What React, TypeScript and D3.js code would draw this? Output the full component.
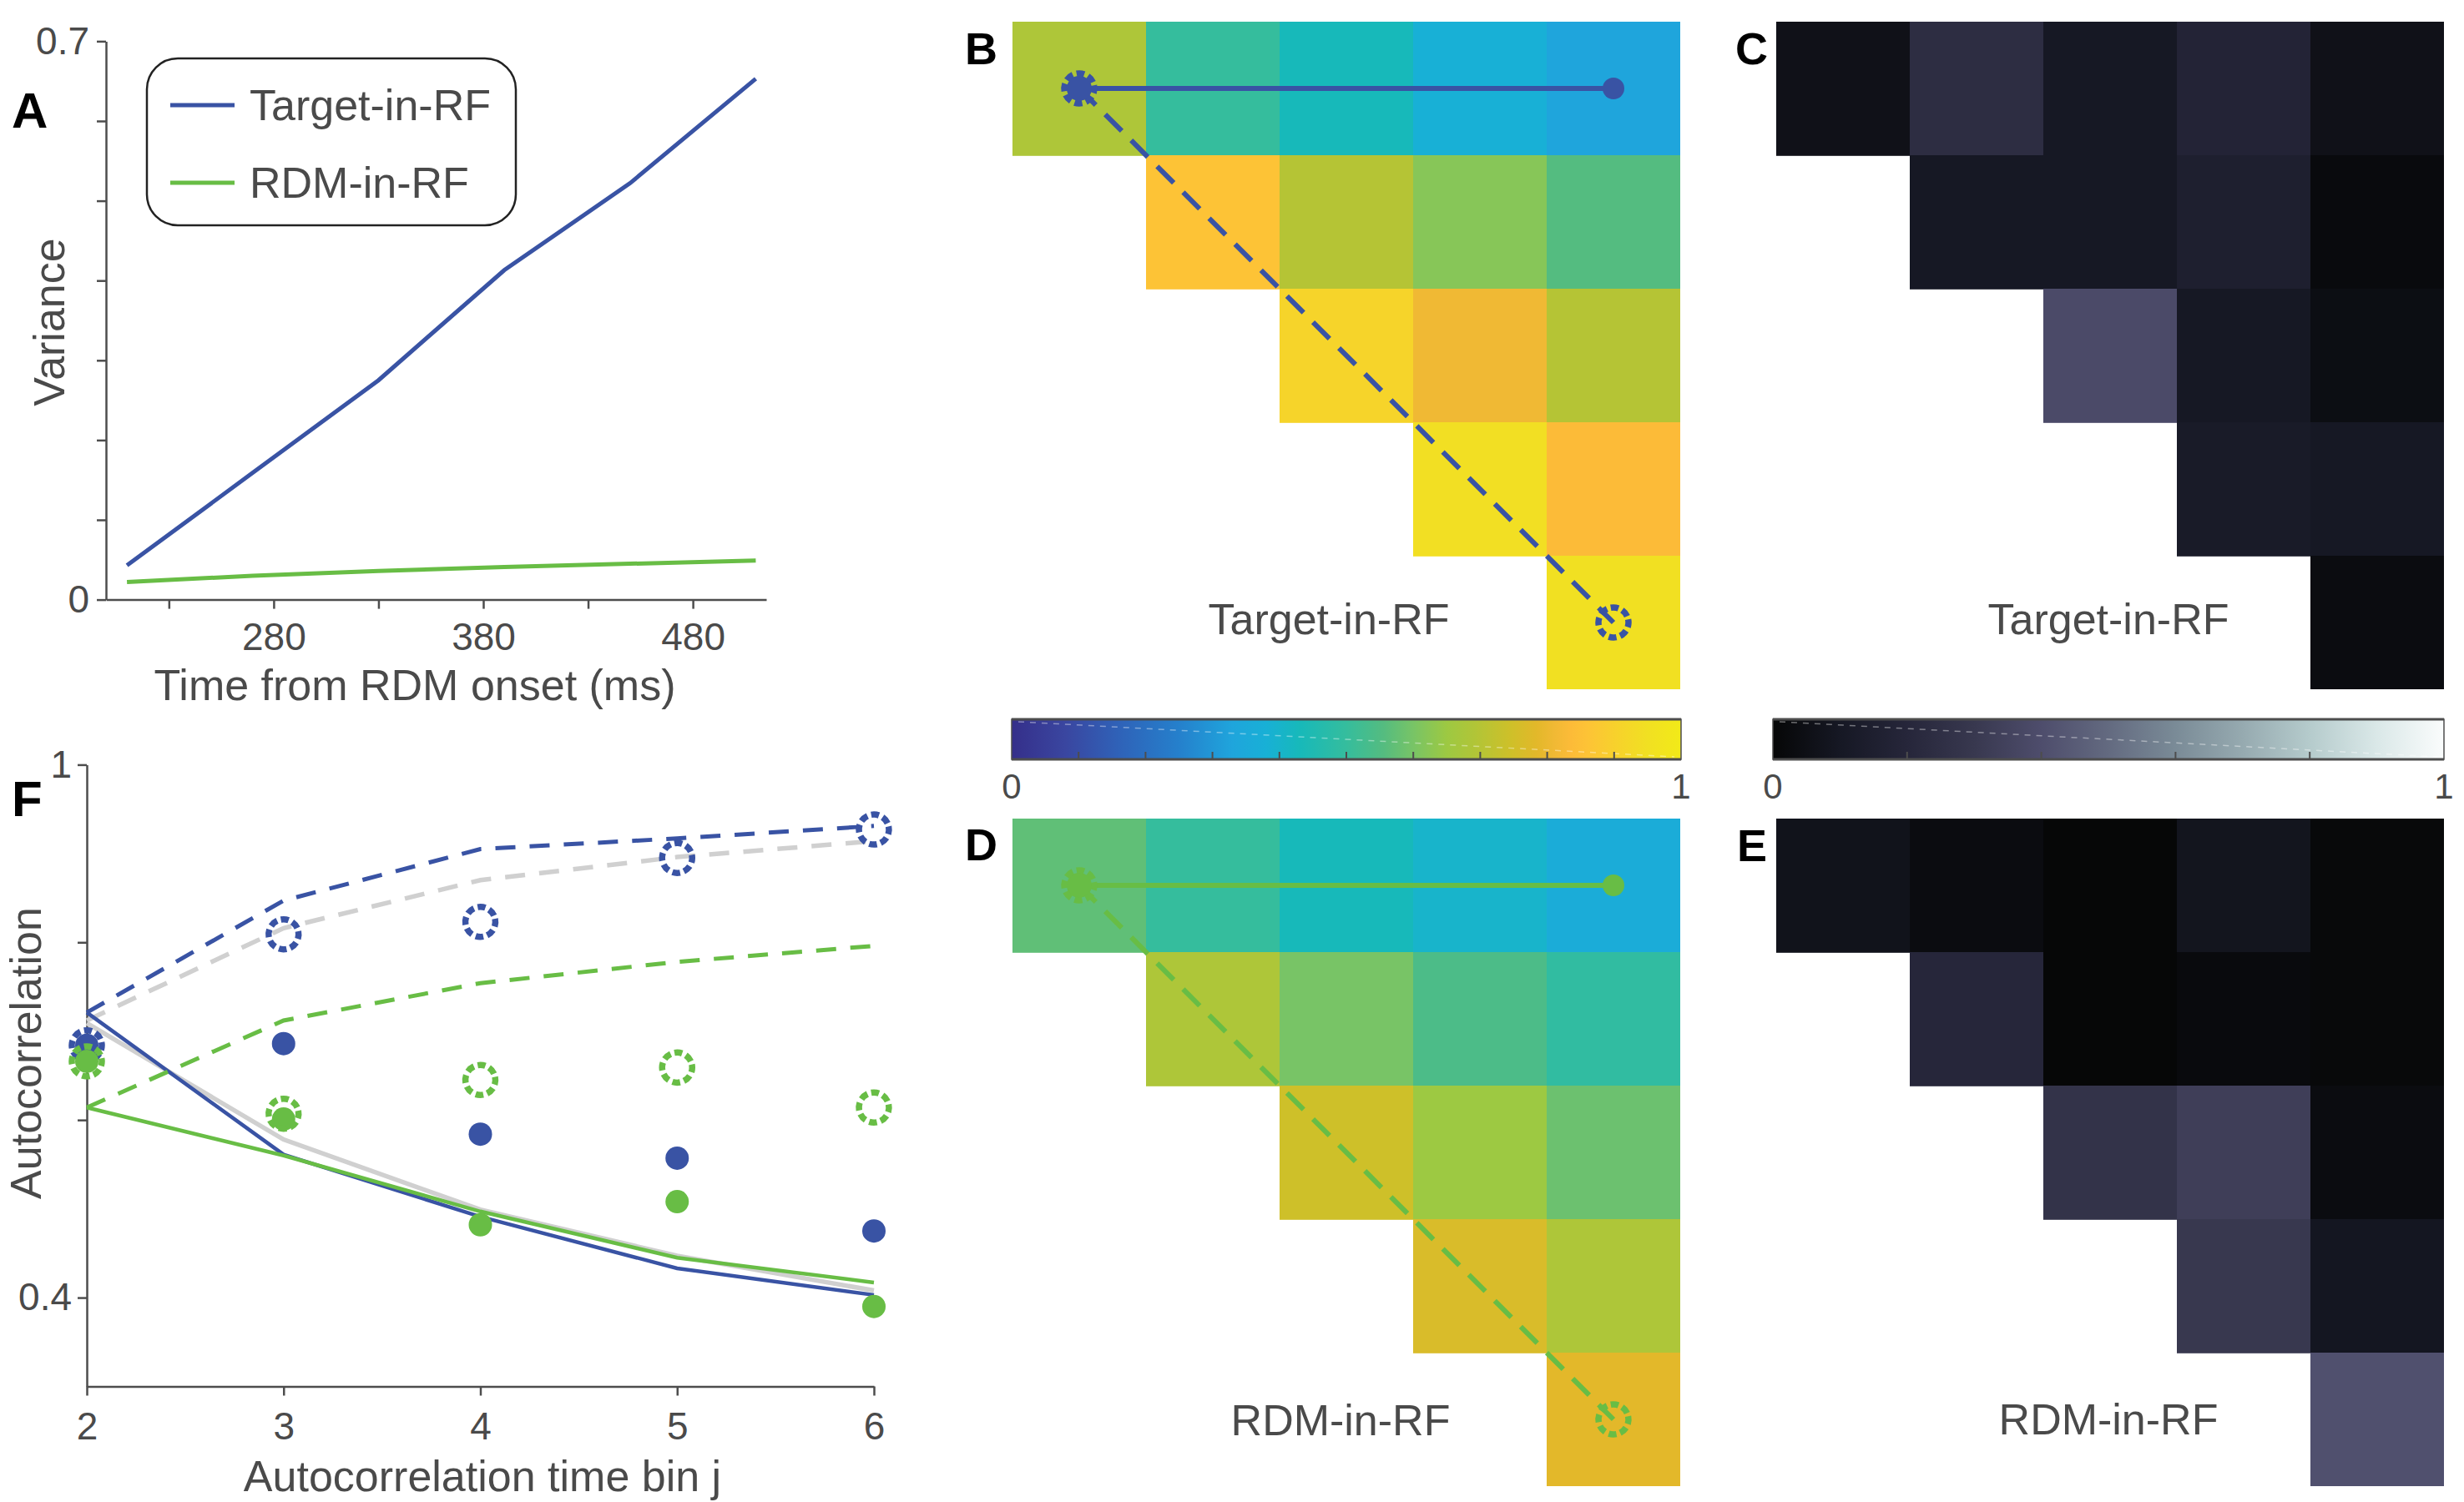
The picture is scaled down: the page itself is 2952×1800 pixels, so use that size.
import React, { useEffect, useRef } from 'react';
import * as d3 from 'd3';

const width = 2952;
const height = 1800;

const FONT = '"Liberation Sans", Arial, Helvetica, sans-serif';
const TEXT = '#4a4a4a';
const AXIS = '#4d4d4d';
const BLUE = '#3953a4';
const GREEN = '#68bd45';
const GRAY = '#d0d0d0';

// A: variance vs time ==================================
const timesMs = [210, 270, 330, 390, 450, 510];
const varTarget = [0.043, 0.159, 0.275, 0.413, 0.522, 0.653];
const varRdm = [0.022, 0.030, 0.036, 0.041, 0.045, 0.049];
const timeTicks = [230, 280, 330, 380, 430, 480];
const timeLabels = [280, 380, 480];
const varTicks = [0, 0.1, 0.2, 0.3, 0.4, 0.5, 0.6, 0.7];
const varLabels = [0, 0.7];

// F: autocorrelation vs time bin =======================
const bins = [2, 3, 4, 5, 6];
const targetDashed = [0.721, 0.847, 0.905, 0.917, 0.931];
const targetSolid = [0.721, 0.561, 0.491, 0.433, 0.403];
const grayDashed = [0.712, 0.816, 0.870, 0.896, 0.914];
const graySolid = [0.709, 0.578, 0.499, 0.447, 0.408];
const rdmDashed = [0.614, 0.712, 0.754, 0.778, 0.796];
const rdmSolid = [0.614, 0.560, 0.497, 0.445, 0.417];
const targetDots = [0.684, 0.686, 0.584, 0.557, 0.475];
const targetRings = [0.684, 0.809, 0.823, 0.895, 0.927];
const rdmDots = [0.666, 0.601, 0.482, 0.508, 0.390];
const rdmRings = [0.666, 0.607, 0.645, 0.659, 0.614];
const acTicks = [0.4, 0.6, 0.8, 1];
const acLabels = [0.4, 1];

// B-E: correlation matrices (upper triangle) ===========
const targetCorr = [
  [0.685, 0.50, 0.43, 0.38, 0.33],
  [null, 0.86, 0.70, 0.62, 0.555],
  [null, null, 0.91, 0.81, 0.70],
  [null, null, null, 0.945, 0.835],
  [null, null, null, null, 0.95],
];
const rdmCorr = [
  [0.57, 0.50, 0.43, 0.40, 0.36],
  [null, 0.685, 0.60, 0.54, 0.49],
  [null, null, 0.745, 0.65, 0.585],
  [null, null, null, 0.765, 0.685],
  [null, null, null, null, 0.785],
];
const targetErr = [
  [0.06, 0.24, 0.10, 0.18, 0.06],
  [null, 0.10, 0.10, 0.15, 0.02],
  [null, null, 0.385, 0.10, 0.04],
  [null, null, null, 0.12, 0.10],
  [null, null, null, null, 0.03],
];
const rdmErr = [
  [0.07, 0.03, 0.0, 0.08, 0.01],
  [null, 0.20, 0.0, 0.02, 0.01],
  [null, null, 0.27, 0.33, 0.03],
  [null, null, null, 0.30, 0.09],
  [null, null, null, null, 0.41],
];

// colormaps
const parulaStops = [0, 0.08, 0.16, 0.25, 0.33, 0.38, 0.43, 0.5, 0.555, 0.6, 0.65, 0.69, 0.745, 0.785, 0.81, 0.835, 0.86, 0.91, 0.95, 1];
const parulaColors = ['#352f8a', '#3a46a0', '#2f62b8', '#2580cc', '#1fa5dc', '#18b0d6', '#17b9ba', '#35bd9d', '#54bc80', '#78c466', '#9dc942', '#b0c538', '#cec029', '#e3b82a', '#f0b934', '#fcbb38', '#fdc336', '#f6d42a', '#f1e022', '#f2ea18'];
const darkStops = [0, 0.1, 0.2, 0.3, 0.4, 0.5, 0.6, 0.7, 0.8, 0.9, 1];
const darkColors = ['#060707', '#161824', '#26263a', '#38384f', '#4e4d6c', '#636a80', '#7a8b97', '#96aab0', '#b5cbcc', '#dae8e8', '#fafcfc'];

const parula = d3.scaleLinear<string>().domain(parulaStops).range(parulaColors).clamp(true);
const darkMap = d3.scaleLinear<string>().domain(darkStops).range(darkColors).clamp(true);

// scales
const xA = d3.scaleLinear().domain([200, 515]).range([127, 918]);
const yA = d3.scaleLinear().domain([0, 0.7]).range([718.6, 49.4]);
const xF = d3.scaleLinear().domain([2, 6]).range([104, 1047]);
const yF = d3.scaleLinear().domain([0.3, 1]).range([1661.5, 916.4]);

// dashed "gear" ring marker
const Ring = ({ cx, cy, color }) => {
  const r = 18;
  const c = 2 * Math.PI * r;
  return (
    <circle cx={cx} cy={cy} r={r} fill="none" stroke={color} strokeWidth={7.5}
      strokeDasharray={`${(c / 8) * 0.66} ${(c / 8) * 0.34}`} transform={`rotate(-12 ${cx} ${cy})`} />
  );
};

const Heatmap = ({ x0, y0, values, cmap, overlay, label, labelX, labelY }) => {
  const band = d3.scaleBand().domain(d3.range(5).map(String)).range([0, 800]);
  const bw = band.bandwidth();
  const cx = j => x0 + band(String(j)) + bw / 2;
  const cy = i => y0 + band(String(i)) + bw / 2;
  return (
    <g>
      {values.map((row, i) =>
        row.map((v, j) =>
          v == null ? null : (
            <rect key={`${i}-${j}`} x={x0 + band(String(j))} y={y0 + band(String(i))}
              width={bw + (j < 4 ? 0.8 : 0)} height={bw + (i < 4 ? 0.8 : 0)} fill={cmap(v)} />
          )
        )
      )}
      {overlay && (
        <g>
          <line x1={cx(0)} y1={cy(0)} x2={cx(4)} y2={cy(0)} stroke={overlay} strokeWidth={6} />
          <line x1={cx(0)} y1={cy(0)} x2={cx(4)} y2={cy(4)} stroke={overlay} strokeWidth={6} strokeDasharray="28 16" />
          <circle cx={cx(0)} cy={cy(0)} r={15} fill={overlay} />
          <Ring cx={cx(0)} cy={cy(0)} color={overlay} />
          <circle cx={cx(4)} cy={cy(0)} r={13} fill={overlay} />
          <Ring cx={cx(4)} cy={cy(4)} color={overlay} />
        </g>
      )}
      <text x={labelX} y={labelY} textAnchor="middle" fontSize={52} fill={TEXT} fontFamily={FONT}>{label}</text>
    </g>
  );
};

const Colorbar = ({ id, x0, x1, stops, colors, ticks }) => {
  const top = 862;
  const bottom = 910;
  const s = d3.scaleLinear().domain([0, 1]).range([x0, x1]);
  return (
    <g>
      <defs>
        <linearGradient id={id} x1="0" x2="1" y1="0" y2="0">
          {stops.map((st, i) => (
            <stop key={i} offset={st} stopColor={colors[i]} />
          ))}
        </linearGradient>
      </defs>
      <rect x={x0} y={top} width={x1 - x0} height={bottom - top} fill={`url(#${id})`} stroke={AXIS} strokeWidth={1.5} />
      <line x1={x0 + 8} y1={top + 3} x2={x1 - 8} y2={bottom - 3} stroke="#ffffff" strokeOpacity={0.4} strokeWidth={1.5} strokeDasharray="7 7" />
      <line x1={x0} y1={top} x2={x1} y2={top} stroke={AXIS} strokeWidth={3} />
      <line x1={x0} y1={bottom} x2={x1} y2={bottom} stroke={AXIS} strokeWidth={3} />
      {ticks.map(t => (
        <line key={t} x1={s(t)} x2={s(t)} y1={bottom} y2={bottom - 9} stroke={AXIS} strokeWidth={2} />
      ))}
      <text x={s(0)} y={957} textAnchor="middle" fontSize={42} fill={TEXT} fontFamily={FONT}>0</text>
      <text x={s(1)} y={957} textAnchor="middle" fontSize={42} fill={TEXT} fontFamily={FONT}>1</text>
    </g>
  );
};

const PanelLabel = ({ x, y, size = 54, children }) => (
  <text x={x} y={y} fontSize={size} fontWeight="bold" fill="#000" fontFamily={FONT}>{children}</text>
);

const App = () => {
  const aXRef = useRef(null);
  const aYRef = useRef(null);
  const fXRef = useRef(null);
  const fYRef = useRef(null);

  useEffect(() => {
    const style = g => {
      g.attr('font-size', 46).attr('font-family', FONT);
      g.select('.domain').attr('stroke', AXIS).attr('stroke-width', 2.5);
      g.selectAll('.tick line').attr('stroke', AXIS).attr('stroke-width', 2.5);
      g.selectAll('.tick text').attr('fill', TEXT);
    };
    d3.select(aXRef.current)
      .call(d3.axisBottom(xA).tickValues(timeTicks)
        .tickFormat(d => (timeLabels.includes(d) ? String(d) : ''))
        .tickSize(11).tickSizeOuter(0).tickPadding(17))
      .call(style);
    d3.select(aYRef.current)
      .call(d3.axisLeft(yA).tickValues(varTicks)
        .tickFormat(d => (varLabels.includes(d) ? String(d) : ''))
        .tickSize(11).tickSizeOuter(0).tickPadding(9))
      .call(style);
    d3.select(fXRef.current)
      .call(d3.axisBottom(xF).tickValues(bins).tickFormat(d3.format('d'))
        .tickSize(11).tickSizeOuter(0).tickPadding(20))
      .call(style);
    d3.select(fYRef.current)
      .call(d3.axisLeft(yF).tickValues(acTicks)
        .tickFormat(d => (acLabels.includes(d) ? String(d) : ''))
        .tickSize(11).tickSizeOuter(0).tickPadding(7))
      .call(style);
  }, []);

  const lineA = d3.line().x(d => xA(d[0])).y(d => yA(d[1]));
  const lineF = d3.line().x(d => xF(d[0])).y(d => yF(d[1]));
  const zipT = vals => timesMs.map((t, i) => [t, vals[i]]);
  const zipB = vals => bins.map((b, i) => [b, vals[i]]);

  return (
    <svg width={width} height={height} style={{ position: 'absolute', left: 0, top: 0, background: '#fff' }}>
      {/* Panel A */}
      <g ref={aXRef} transform={`translate(0, ${yA(0)})`} />
      <g ref={aYRef} transform={`translate(${xA(200)}, 0)`} />
      <path d={lineA(zipT(varRdm))} fill="none" stroke={GREEN} strokeWidth={5} />
      <path d={lineA(zipT(varTarget))} fill="none" stroke={BLUE} strokeWidth={5} />
      <rect x={176} y={70} width={442} height={200} rx={37} fill="#fff" stroke="#222" strokeWidth={2.5} />
      <line x1={204} x2={281} y1={126} y2={126} stroke={BLUE} strokeWidth={5} />
      <line x1={204} x2={281} y1={219} y2={219} stroke={GREEN} strokeWidth={5} />
      <text x={299} y={144} fontSize={52} fill={TEXT} fontFamily={FONT}>Target-in-RF</text>
      <text x={299} y={237} fontSize={52} fill={TEXT} fontFamily={FONT}>RDM-in-RF</text>
      <text x={497} y={839} textAnchor="middle" fontSize={52} fill={TEXT} fontFamily={FONT}>Time from RDM onset (ms)</text>
      <text transform="translate(77, 386) rotate(-90)" textAnchor="middle" fontSize={52} fill={TEXT} fontFamily={FONT}>Variance</text>
      <PanelLabel x={14} y={153} size={60}>A</PanelLabel>

      {/* Panel F */}
      <g ref={fXRef} transform={`translate(0, ${yF(0.3)})`} />
      <g ref={fYRef} transform={`translate(${xF(2)}, 0)`} />
      <path d={lineF(zipB(grayDashed))} fill="none" stroke={GRAY} strokeWidth={5.5} strokeDasharray="24 17" />
      <path d={lineF(zipB(graySolid))} fill="none" stroke={GRAY} strokeWidth={5.5} />
      <path d={lineF(zipB(targetDashed))} fill="none" stroke={BLUE} strokeWidth={5} strokeDasharray="24 17" />
      <path d={lineF(zipB(targetSolid))} fill="none" stroke={BLUE} strokeWidth={4.5} />
      <path d={lineF(zipB(rdmDashed))} fill="none" stroke={GREEN} strokeWidth={5} strokeDasharray="24 17" />
      <path d={lineF(zipB(rdmSolid))} fill="none" stroke={GREEN} strokeWidth={4.5} />
      {bins.map((b, i) => (
        <g key={`t${b}`}>
          <circle cx={xF(b)} cy={yF(targetDots[i])} r={14} fill={BLUE} />
          <Ring cx={xF(b)} cy={yF(targetRings[i])} color={BLUE} />
        </g>
      ))}
      {bins.map((b, i) => (
        <g key={`r${b}`}>
          <circle cx={xF(b)} cy={yF(rdmDots[i])} r={14} fill={GREEN} />
          <Ring cx={xF(b)} cy={yF(rdmRings[i])} color={GREEN} />
        </g>
      ))}
      <text x={578} y={1787} textAnchor="middle" fontSize={52} fill={TEXT} fontFamily={FONT}>Autocorrelation time bin j</text>
      <text transform="translate(49, 1262) rotate(-90)" textAnchor="middle" fontSize={52} fill={TEXT} fontFamily={FONT}>Autocorrelation</text>
      <PanelLabel x={14} y={978} size={60}>F</PanelLabel>

      {/* Panels B-E */}
      <Heatmap x0={1213} y0={26} values={targetCorr} cmap={parula} overlay={BLUE} label="Target-in-RF" labelX={1592} labelY={760} />
      <Heatmap x0={2128} y0={26} values={targetErr} cmap={darkMap} label="Target-in-RF" labelX={2526} labelY={760} />
      <Heatmap x0={1213} y0={981} values={rdmCorr} cmap={parula} overlay={GREEN} label="RDM-in-RF" labelX={1606} labelY={1720} />
      <Heatmap x0={2128} y0={981} values={rdmErr} cmap={darkMap} label="RDM-in-RF" labelX={2526} labelY={1719} />
      <Colorbar id="cbParula" x0={1212} x1={2014} stops={parulaStops} colors={parulaColors} ticks={d3.range(1, 10).map(d => d / 10)} />
      <Colorbar id="cbDark" x0={2124} x1={2928} stops={darkStops} colors={darkColors} ticks={[0.2, 0.4, 0.6, 0.8]} />
      <PanelLabel x={1156} y={77}>B</PanelLabel>
      <PanelLabel x={2079} y={77}>C</PanelLabel>
      <PanelLabel x={1156} y={1031}>D</PanelLabel>
      <PanelLabel x={2081} y={1032}>E</PanelLabel>
    </svg>
  );
};

export default App;
